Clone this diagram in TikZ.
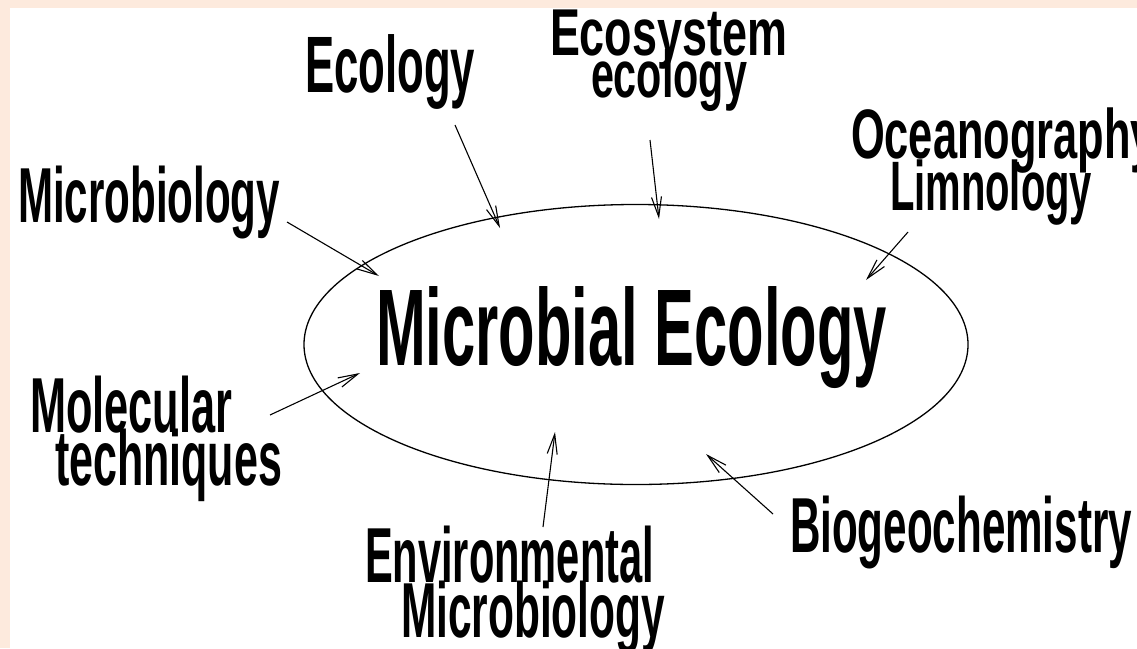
\documentclass[tikz,border=0pt]{standalone}
\usepackage{fontspec}
\setmainfont{Liberation Sans}
\usetikzlibrary{arrows.meta,shapes.geometric}
\definecolor{peach}{RGB}{253,234,221}
% squeezed text: #1 target width (pt), #2 font size (pt), #3 text
\newcommand\sqtext[3]{\resizebox{#1pt}{\height}{\fontsize{#2}{#2}\selectfont\bfseries #3}}
% two-line label: #1 baselineskip, #2 first line, #3 indent of second line, #4 second line
\newcommand\twolines[4]{\vtop{\baselineskip=#1pt\lineskiplimit=-\maxdimen\lineskip=0pt\hbox{#2}\hbox{\hspace*{#3pt}#4}}}
\tikzset{
  lbl/.style={anchor=base west, inner sep=0pt, outer sep=0pt, text=black},
  arr/.style={line width=1.1pt, -{Straight Barb[length=20pt,width=10pt,line width=1.1pt]}},
  core/.style={draw, ellipse, line width=1.3pt, inner sep=0pt, outer sep=0pt,
               minimum width=664pt, minimum height=280pt}
}
\begin{document}
\begin{tikzpicture}[x=1pt,y=-1pt]
\useasboundingbox (0,0) rectangle (1137,648);
\fill[white] (0,0) rectangle (1137,648);

% central ellipse and title
\node[core] (core) at (636,344.5) {};
\node[lbl] (title) at (376,365) {\sqtext{511}{109}{Microbial Ecology}};

% surrounding labels
\node[lbl] (micro) at (18,222) {\sqtext{262}{78}{Microbiology}};
\node[lbl] (ecol) at (305,92) {\sqtext{170}{80}{Ecology}};
\node[lbl] (ecosys) at (550,55) {\scalebox{1}[0.85]{\twolines{49.5}{\sqtext{237}{78}{Ecosystem}}{41}{\sqtext{156}{78}{ecology}}}};
\node[lbl] (ocean) at (851,158) {\twolines{52}{\sqtext{304}{70}{Oceanography}}{39}{\sqtext{202}{70}{Limnology}}};
\node[lbl] (molec) at (30,432) {\twolines{53}{\sqtext{202}{78}{Molecular}}{25}{\sqtext{227}{78}{techniques}}};
\node[lbl] (envir) at (365,582) {\twolines{55}{\sqtext{289}{78}{Environmental}}{36}{\sqtext{264}{78}{Microbiology}}};
\node[lbl] (biogeo) at (790,552) {\sqtext{342}{78}{Biogeochemistry}};

% connector end points
\coordinate (microS) at (287,222);  \coordinate (microT) at (379,276);
\coordinate (ecolS) at (455,125);   \coordinate (ecolT) at (500,228);
\coordinate (ecosysS) at (650,140); \coordinate (ecosysT) at (659,219);
\coordinate (oceanS) at (908,232);  \coordinate (oceanT) at (866,280);
\coordinate (molecS) at (270,415);  \coordinate (molecT) at (360,373);
\coordinate (envirS) at (543,527);  \coordinate (envirT) at (555,432);
\coordinate (biogeoS) at (773,514); \coordinate (biogeoT) at (706,454);

\draw[arr] (microS) -- (microT);
\draw[arr] (ecolS) -- (ecolT);
\draw[arr] (ecosysS) -- (ecosysT);
\draw[arr] (oceanS) -- (oceanT);
\draw[arr] (molecS) -- (molecT);
\draw[arr] (envirS) -- (envirT);
\draw[arr] (biogeoS) -- (biogeoT);

% peach frame bands (drawn last, they hide the top of the first title)
\fill[peach] (0,0) rectangle (1137,8);
\fill[peach] (0,0) rectangle (10,648);
\end{tikzpicture}
\end{document}
